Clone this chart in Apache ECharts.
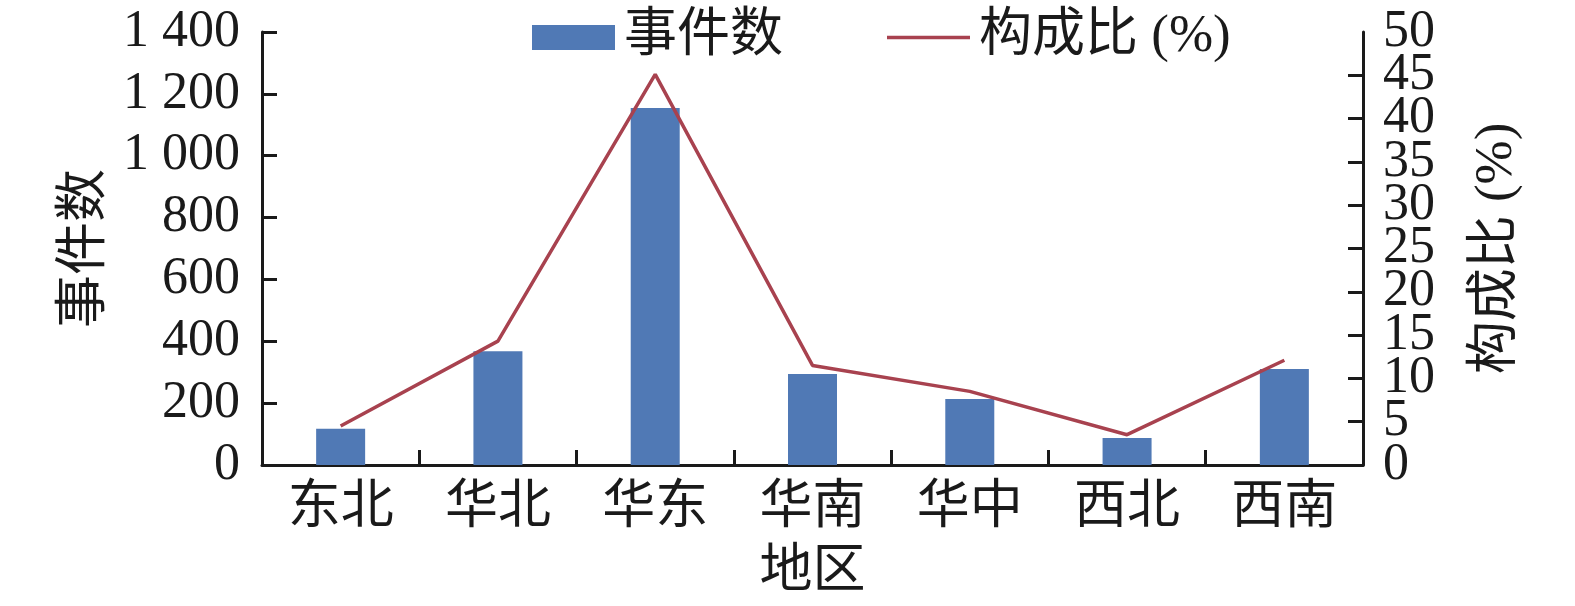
<!DOCTYPE html>
<html>
<head>
<meta charset="utf-8">
<script src="https://cdn.jsdelivr.net/npm/echarts@6/dist/echarts.min.js"></script>
<style>
html,body{margin:0;padding:0;background:#fff;}
#chart{width:1575px;height:606px;}
</style>
</head>
<body>
<div id="chart"></div>
<script>
const categories = ['东北', '华北', '华东', '华南', '华中', '西北', '西南'];
const eventCounts = [117, 368, 1154, 294, 213, 87, 310];
const sharePercent = [4.5, 14.3, 45.1, 11.5, 8.5, 3.5, 12.1];
const countSeriesName = '事件数';
const shareSeriesName = '构成比 (%)';
const xAxisName = '地区';

const FONT = '"Liberation Serif", "Times New Roman", "Noto Sans CJK SC", serif';
const chart = echarts.init(document.getElementById('chart'), null, {renderer: 'canvas'});
const axisLine = {show: true, lineStyle: {color: '#1a1a1a', width: 3}};
const axisTick = {show: true, inside: true, length: 15, lineStyle: {color: '#1a1a1a', width: 3}};

chart.setOption({
  animation: false,
  backgroundColor: '#ffffff',
  textStyle: {fontFamily: FONT, color: '#1a1a1a'},
  legend: {
    left: 527, top: 6,
    itemWidth: 83, itemHeight: 25, itemGap: 104,
    symbolKeepAspect: true,
    textStyle: {fontFamily: FONT, fontSize: 53, color: '#1a1a1a', padding: [0, 0, 0, 4]},
    data: [
      {name: countSeriesName, icon: 'rect'},
      {name: shareSeriesName, icon: 'path://M0,0L83,0L83,3.5L0,3.5Z', itemStyle: {color: '#A8424F'}}
    ]
  },
  grid: {left: 262, right: 212, top: 32, bottom: 141, containLabel: false, outerBoundsMode: 'none'},
  xAxis: {
    type: 'category',
    data: categories,
    boundaryGap: true,
    name: xAxisName,
    nameLocation: 'middle',
    nameGap: 82,
    nameTextStyle: {fontFamily: FONT, fontSize: 53, color: '#1a1a1a'},
    axisLine: axisLine,
    axisTick: Object.assign({alignWithLabel: false}, axisTick),
    axisLabel: {fontFamily: FONT, fontSize: 53, color: '#1a1a1a', margin: 18, interval: 0}
  },
  yAxis: [
    {
      type: 'value', min: 0, max: 1400, interval: 200,
      name: countSeriesName,
      nameLocation: 'middle', nameRotate: 90, nameGap: 143,
      nameTextStyle: {fontFamily: FONT, fontSize: 53, color: '#1a1a1a'},
      axisLine: axisLine, axisTick: axisTick,
      splitLine: {show: false},
      axisLabel: {
        fontFamily: FONT, fontSize: 52, color: '#1a1a1a', margin: 22,
        showMinLabel: true, showMaxLabel: true, hideOverlap: false,
        formatter: v => String(v).replace(/\B(?=(\d{3})+(?!\d))/g, ' ')
      }
    },
    {
      type: 'value', min: 0, max: 50, interval: 5, position: 'right',
      name: shareSeriesName,
      nameLocation: 'middle', nameRotate: 90, nameGap: 108,
      nameTextStyle: {fontFamily: FONT, fontSize: 53, color: '#1a1a1a'},
      axisLine: axisLine, axisTick: axisTick,
      splitLine: {show: false},
      axisLabel: {fontFamily: FONT, fontSize: 52, color: '#1a1a1a', margin: 20,
        showMinLabel: false, showMaxLabel: false, hideOverlap: false}
    },
    {
      type: 'value', min: 0, max: 50, interval: 50, position: 'right', offset: 0,
      axisLine: {show: false}, axisTick: {show: false},
      splitLine: {show: false},
      axisLabel: {fontFamily: FONT, fontSize: 52, color: '#1a1a1a', margin: 20,
        showMinLabel: true, showMaxLabel: true}
    }
  ],
  series: [
    {
      name: countSeriesName,
      type: 'bar',
      yAxisIndex: 0,
      data: eventCounts,
      barWidth: 49,
      itemStyle: {color: '#5079B5'}
    },
    {
      name: shareSeriesName,
      type: 'line',
      yAxisIndex: 1,
      data: sharePercent,
      symbol: 'none',
      lineStyle: {color: '#A8424F', width: 3.5},
      itemStyle: {color: '#A8424F'}
    }
  ]
});
</script>
</body>
</html>
